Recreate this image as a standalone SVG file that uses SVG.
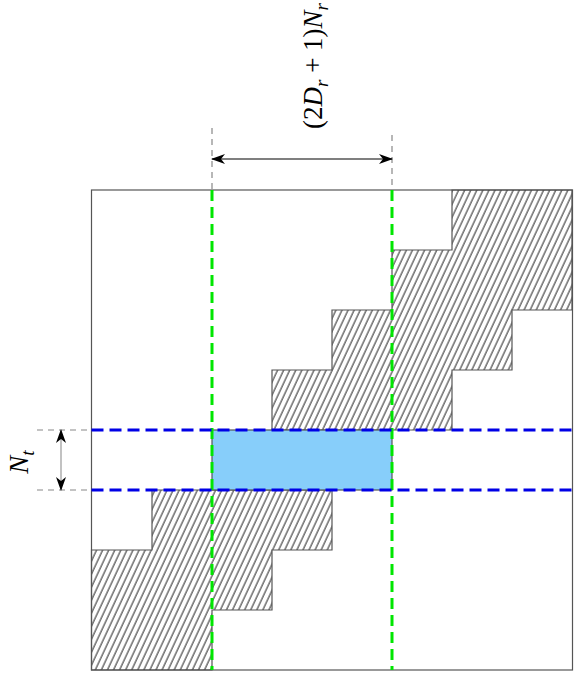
<svg xmlns="http://www.w3.org/2000/svg" width="575" height="681" viewBox="0 0 575 681">
<style>
.outline{fill:none;stroke:#555;stroke-width:1.2}
.hatch{fill:url(#hatch);stroke:#555;stroke-width:1.2}
.ext{stroke:#888;stroke-width:1.2;stroke-dasharray:6,5;fill:none}
.green{stroke:#00e600;stroke-width:3;stroke-dasharray:11,6;fill:none}
.blue{stroke:#0000e6;stroke-width:3;stroke-dasharray:12,6;fill:none}
.dim{stroke:#000;stroke-width:1.2;fill:none;marker-start:url(#ah);marker-end:url(#ah)}
.lbl{font-family:"Liberation Serif",serif;font-size:27px;fill:#000}
</style>
<defs>
<pattern id="hatch" width="5.5" height="20" patternUnits="userSpaceOnUse" patternTransform="rotate(25)">
<line x1="1" y1="0" x2="1" y2="20" stroke="#222" stroke-width="1"/>
</pattern>
<marker id="ah" viewBox="0 0 14 10" refX="13" refY="5" markerWidth="14" markerHeight="10" markerUnits="userSpaceOnUse" orient="auto-start-reverse">
<path d="M0,0 L14,5 L0,10 L4,5 Z" fill="#000"/>
</marker>
</defs>
<rect width="575" height="681" fill="#fff"/>
<g id="box">
<rect class="outline" x="91.5" y="190" width="481" height="480" fill="#fff"/>
</g>
<g id="upper-band">
<path class="hatch" d="M452,190 L572,190 L572,310 L512,310 L512,370 L452,370 L452,430 L272,430 L272,370 L332,370 L332,310 L392,310 L392,250 L452,250 Z"/>
</g>
<g id="lower-band">
<path class="hatch" d="M91.5,550 L152,550 L152,490 L332,490 L332,550 L272,550 L272,610 L212,610 L212,670 L91.5,670 Z"/>
</g>
<g id="block">
<rect x="212" y="430" width="180" height="60" fill="#87cefa" stroke="#555" stroke-width="1.2"/>
</g>
<g id="connectors">
<line class="ext" x1="212" y1="128" x2="212" y2="190"/>
<line class="ext" x1="392" y1="135" x2="392" y2="190"/>
<line class="ext" x1="37" y1="430" x2="91" y2="430"/>
<line class="ext" x1="37" y1="490" x2="91" y2="490"/>
<line class="green" x1="212" y1="190" x2="212" y2="670"/>
<line class="green" x1="392" y1="190" x2="392" y2="670"/>
<line class="blue" x1="91.5" y1="430" x2="575" y2="430"/>
<line class="blue" x1="91.5" y1="490" x2="575" y2="490"/>
<line class="dim" x1="212" y1="159" x2="392" y2="159"/>
<line class="dim" x1="61" y1="430" x2="61" y2="490" style="stroke:#999"/>
</g>
<g id="labels">
<text class="lbl" transform="translate(322,66) rotate(-90)" text-anchor="middle">(2<tspan font-style="italic">D</tspan><tspan font-style="italic" font-size="19" dy="6">r</tspan><tspan dy="-6"> + 1)</tspan><tspan font-style="italic">N</tspan><tspan font-style="italic" font-size="19" dy="6">r</tspan></text>
<text class="lbl" transform="translate(28,462) rotate(-90)" text-anchor="middle"><tspan font-style="italic">N</tspan><tspan font-style="italic" font-size="19" dy="6">t</tspan></text>
</g>
</svg>
